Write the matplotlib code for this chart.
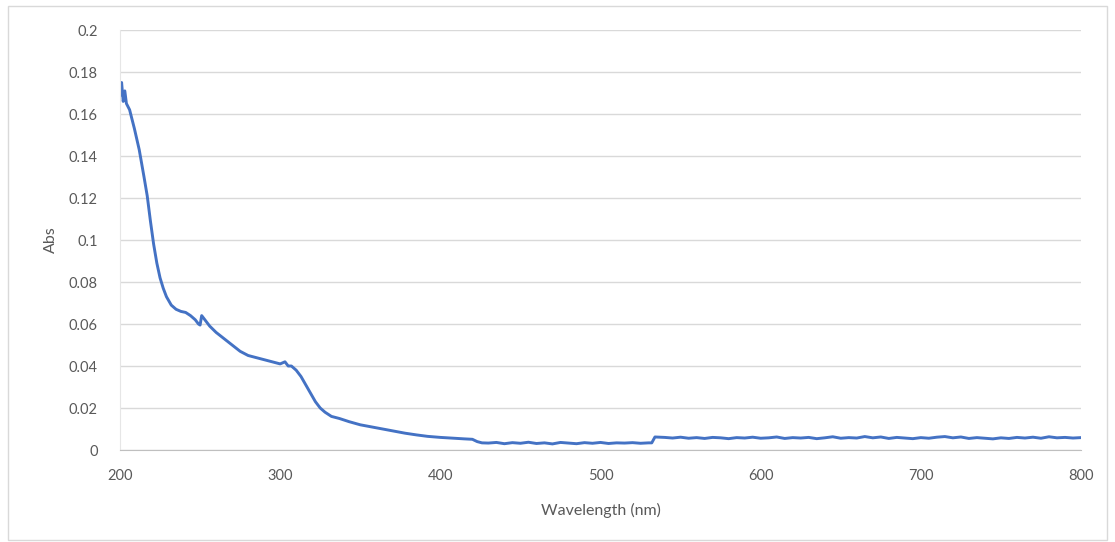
import matplotlib
matplotlib.use('Agg')
import matplotlib.pyplot as plt
from matplotlib.patches import Rectangle
from matplotlib.ticker import FuncFormatter

# spectrum
wavelength = [200, 201, 202, 203, 204, 206, 209, 212, 215, 217, 219, 221, 223, 225, 227, 229,
              232, 235, 238, 241, 244, 247, 249, 250, 251, 253, 256, 260, 265, 270, 275, 280,
              285, 290, 295, 300, 303, 305, 307, 310, 313, 316, 319, 322, 325, 328, 332, 337,
              343, 350, 357, 364, 371, 378, 385, 392, 400, 408, 415, 420, 423, 426,
              430, 435, 440, 445, 450, 455, 460, 465, 470, 475, 480, 485, 490, 495, 500,
              505, 510, 515, 520, 525, 530, 532, 534,
              540, 545, 550, 555, 560, 565, 570, 575, 580, 585, 590, 595, 600, 605, 610,
              615, 620, 625, 630, 635, 640, 645, 650, 655, 660, 665, 670, 675, 680, 685,
              690, 695, 700, 705, 710, 715, 720, 725, 730, 735, 740, 745, 750, 755, 760,
              765, 770, 775, 780, 785, 790, 795, 800]
absorbance = [0.169, 0.175, 0.166, 0.171, 0.165, 0.162, 0.153, 0.143, 0.130, 0.121, 0.109, 0.098,
              0.089, 0.082, 0.077, 0.073, 0.069, 0.067, 0.066, 0.0655, 0.064, 0.062, 0.060, 0.0595,
              0.064, 0.062, 0.059, 0.056, 0.053, 0.050, 0.047, 0.045, 0.044, 0.043, 0.042, 0.041,
              0.042, 0.040, 0.040, 0.038, 0.035, 0.031, 0.027, 0.023, 0.020, 0.018, 0.016, 0.015,
              0.0135, 0.012, 0.011, 0.010, 0.009, 0.008, 0.0072, 0.0065, 0.006, 0.0056, 0.0053,
              0.0051, 0.0040, 0.0034,
              0.0033, 0.0036, 0.0030, 0.0035, 0.0032, 0.0037, 0.0031, 0.0034, 0.0029, 0.0036,
              0.0033, 0.0030, 0.0035, 0.0032, 0.0036, 0.0031, 0.0034, 0.0033, 0.0035, 0.0032,
              0.0034, 0.0034, 0.0062,
              0.0060, 0.0057, 0.0061, 0.0056, 0.0059, 0.0055, 0.0060, 0.0058, 0.0054, 0.0059,
              0.0057, 0.0061, 0.0056, 0.0058, 0.0062, 0.0055, 0.0059, 0.0057, 0.0060, 0.0054,
              0.0058, 0.0063, 0.0056, 0.0059, 0.0057, 0.0064, 0.0058, 0.0062, 0.0055, 0.0060,
              0.0057, 0.0054, 0.0059, 0.0056, 0.0061, 0.0064, 0.0058, 0.0062, 0.0055, 0.0059,
              0.0056, 0.0053, 0.0058, 0.0055, 0.0060, 0.0057, 0.0061, 0.0056, 0.0063, 0.0058,
              0.0060, 0.0057, 0.0059]

y_ticks = [0, 0.02, 0.04, 0.06, 0.08, 0.1, 0.12, 0.14, 0.16, 0.18, 0.2]
x_ticks = [200, 300, 400, 500, 600, 700, 800]

text_color = '#595959'
plt.rcParams['font.family'] = ['Lato', 'DejaVu Sans']

fig = plt.figure(figsize=(11.15, 5.42), dpi=100)
fig.patches.append(Rectangle((8 / 1115, 2 / 542), 1099 / 1115, 534 / 542, transform=fig.transFigure,
                             fill=False, edgecolor='#D9D9D9', linewidth=1))
ax = fig.add_axes([120 / 1115, 1 - 450 / 542, 961 / 1115, 420 / 542])

ax.plot(wavelength, absorbance, color='#4472C4', linewidth=2.1)

ax.set_xlim(200, 800)
ax.set_ylim(0, 0.2)
ax.set_xticks(x_ticks)
ax.set_yticks(y_ticks)
ax.yaxis.set_major_formatter(FuncFormatter(lambda v, p: f'{v:g}'))
ax.grid(axis='y', color='#D9D9D9', linewidth=1)
ax.set_axisbelow(True)
for side in ['top', 'right']:
    ax.spines[side].set_visible(False)
ax.spines['left'].set_color('#E6E6E6')
ax.spines['bottom'].set_color('#BFBFBF')
ax.tick_params(length=0, labelsize=10.5, labelcolor=text_color)
ax.tick_params(axis='x', pad=14)
ax.tick_params(axis='y', pad=16)

ax.set_xlabel('Wavelength (nm)', fontsize=11.5, color=text_color, labelpad=14)
ax.set_ylabel('Abs', fontsize=11.5, color=text_color, labelpad=8)

fig.savefig('out.png', dpi=100)
